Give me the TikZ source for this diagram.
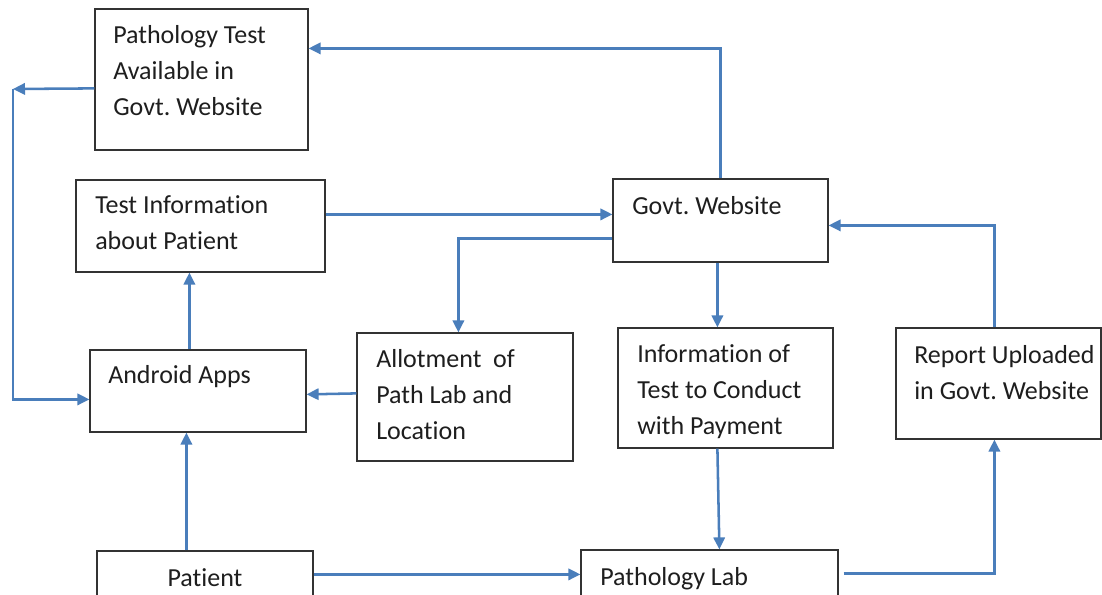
\documentclass[tikz,border=0pt]{standalone}
\usepackage{fontspec}
\setmainfont{Carlito}[Ligatures=NoCommon]
\frenchspacing
\usetikzlibrary{arrows.meta,calc,fit}
\definecolor{arrblue}{RGB}{74,126,187}
\definecolor{txtgray}{RGB}{30,30,30}
\tikzset{
  box/.style={draw=black!80, line width=0.9pt, inner sep=0pt, rectangle},
  txt/.style={anchor=north west, inner sep=0pt, align=left, text=txtgray,
              font=\fontsize{19.5}{27}\selectfont},
  arr/.style={draw=arrblue, line width=1.9pt, -{Triangle[length=9pt,width=8.5pt]}},
  ln/.style={draw=arrblue, line width=1.9pt}
}
\begin{document}
\begin{tikzpicture}[x=0.75pt,y=-0.75pt]
\clip (0,0) rectangle (1102,595);
\fill[white] (0,0) rectangle (1102,595);
% boxes
\node[box, fit={(95,9) (308,150)}] (pt) {};
\node[box, fit={(76,180) (325,272)}] (ti) {};
\node[box, fit={(613,179) (828,262)}] (gw) {};
\node[box, fit={(90,350) (306,432)}] (aa) {};
\node[box, fit={(357,333) (573,461)}] (al) {};
\node[box, fit={(618,328) (833,448)}] (inf) {};
\node[box, fit={(896,328) (1101,439)}] (rep) {};
\node[box, fit={(97,551) (313,620)}] (pat) {};
\node[box, fit={(581,550) (838,620)}] (pl) {};
% texts
\node[txt] (ptT) at (113,18) {\strut Pathology Test\\\strut Available in\\\strut Govt. Website};
\node[txt] (tiT) at (95,188) {\strut Test Information\\\strut about Patient};
\node[txt] (gwT) at (632,189) {\strut Govt. Website};
\node[txt] (aaT) at (108,358) {\strut Android Apps};
\node[txt] (alT) at (376,342) {\strut Allotment\ \ of\\\strut Path Lab and\\\strut Location};
\node[txt] (infT) at (637,337) {\strut Information of\\\strut Test to Conduct\\\strut with Payment};
\node[txt] (repT) at (914,338) {\strut Report Uploaded\\\strut in Govt. Website};
\node[txt, anchor=north] (patT) at (205,561) {\strut Patient};
\node[txt] (plT) at (600,560) {\strut Pathology Lab};
% connectors
\coordinate (lt) at (13,89);
\draw[arr] (gw.north) |- ($(pt.north east)+(0,40)$);
\draw[arr] ($(pt.north west)+(0,80)$) -- (lt);
\draw[arr] (lt) |- ($(aa.north west)+(0,50)$);
\draw[arr] ($(ti.north east)+(0,35)$) -- ($(gw.north west)+(0,36)$);
\draw[arr] ($(gw.north west)+(0,60)$) -| ($(al.north west)+(102,0)$);
\draw[arr] ($(al.north west)+(0,61)$) -- ($(aa.north east)+(0,45)$);
\draw[arr] ($(aa.north west)+(100,0)$) -- ($(ti.south west)+(114,0)$);
\draw[arr] ($(pat.north west)+(90,0)$) -- ($(aa.south west)+(97,0)$);
\draw[arr] ($(pat.north east)+(0,24)$) -- ($(pl.north west)+(0,25)$);
\draw[arr] ($(gw.south west)+(105,0)$) -- ($(inf.north west)+(100,0)$);
\draw[arr] ($(inf.south west)+(100,0)$) -- ($(pl.north west)+(139,0)$);
\draw[arr] ($(pl.north east)+(5,24)$) -| ($(rep.south west)+(99,0)$);
\draw[arr] ($(rep.north west)+(99,0)$) |- ($(gw.north east)+(0,47)$);
\end{tikzpicture}
\end{document}
